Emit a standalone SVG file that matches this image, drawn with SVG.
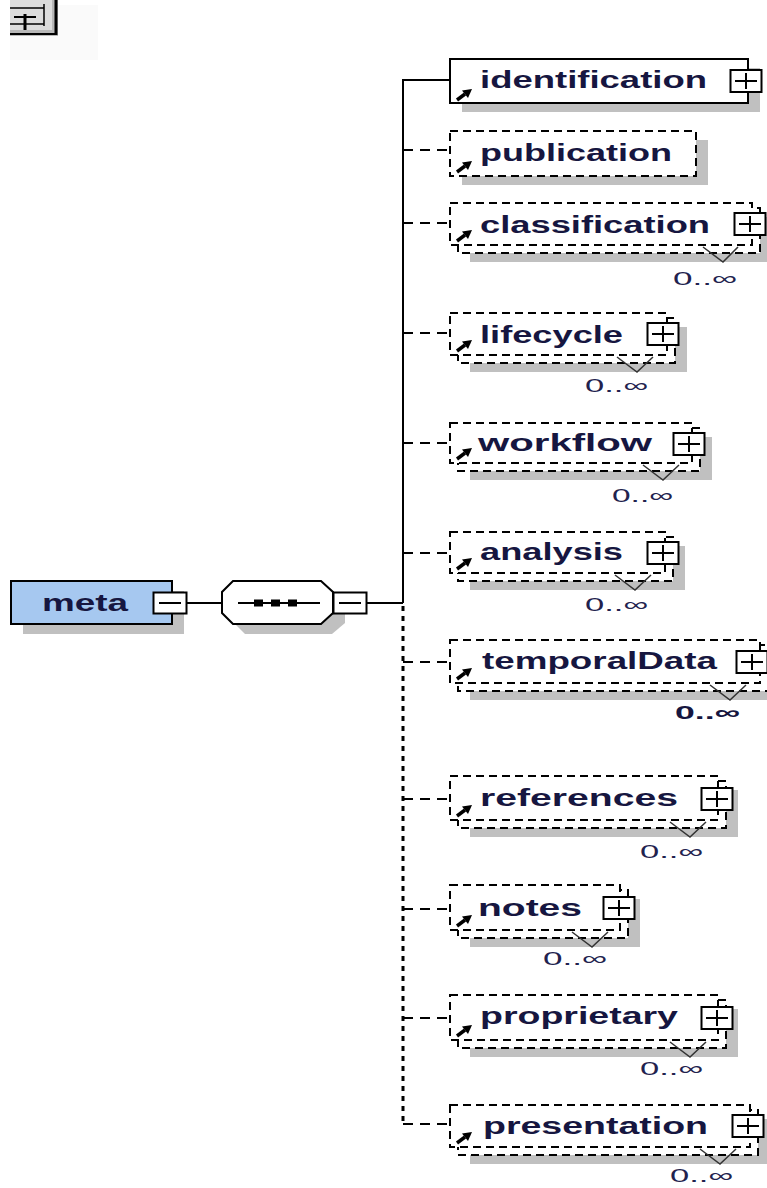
<svg xmlns="http://www.w3.org/2000/svg" width="767" height="1188" viewBox="0 0 767 1188">
<style>
.shadow{fill:#c0c0c0;stroke:none}
.box{fill:#ffffff;stroke:#000;stroke-width:2}
.dbox{fill:#ffffff;stroke:#000;stroke-width:2;stroke-dasharray:8 5}
.lbl{font-family:"Liberation Sans",Arial,sans-serif;font-weight:bold;font-size:23px;fill:#161640}
.card{font-family:"Liberation Sans",Arial,sans-serif;font-size:19px;fill:#22224e}
.cardb{font-family:"Liberation Sans",Arial,sans-serif;font-size:19px;font-weight:bold;fill:#161640}
.plus{fill:#fff;stroke:#000;stroke-width:2}
.sign{stroke:#000;stroke-width:2;fill:none}
.chev{fill:none;stroke:#333;stroke-width:1.5}
.solid{stroke:#000;stroke-width:2;fill:none}
.dash{stroke:#000;stroke-width:2;fill:none;stroke-dasharray:10 7}
.dot{stroke:#000;stroke-width:3;fill:none;stroke-dasharray:5 5}
</style>
<defs>
<g id="arr">
<line x1="0" y1="0" x2="8" y2="-6" stroke="#000" stroke-width="3.5"/>
<polygon points="15,-11 5,-9.5 11,-2" fill="#000"/>
</g>
<g id="pl">
<rect class="plus" x="-15.5" y="-11" width="31" height="22"/>
<line class="sign" x1="-11" y1="0" x2="11" y2="0"/>
<line class="sign" x1="0" y1="-8" x2="0" y2="8"/>
</g>
<g id="mn">
<rect class="plus" x="-16.5" y="-10.5" width="33" height="21"/>
<line class="sign" x1="-11" y1="0" x2="11" y2="0"/>
</g>
</defs>

<g id="toolbar">
<rect x="10" y="5" width="88" height="55" fill="#fafafa"/>
<rect x="10" y="0" width="48" height="36" fill="#b8b8b8"/>
<rect x="10" y="0" width="42" height="30" fill="#dcdcdc"/>
<line x1="56" y1="0" x2="56" y2="35" stroke="#000" stroke-width="3"/>
<line x1="10" y1="34" x2="57" y2="34" stroke="#000" stroke-width="2"/>
<line x1="10" y1="8" x2="44" y2="8" stroke="#000" stroke-width="1.5"/>
<line x1="10" y1="24" x2="44" y2="24" stroke="#000" stroke-width="1.5"/>
<line x1="44" y1="4" x2="44" y2="26" stroke="#000" stroke-width="1.5"/>
<line x1="14" y1="17" x2="36" y2="17" stroke="#000" stroke-width="2"/>
<line x1="25" y1="14" x2="25" y2="30" stroke="#000" stroke-width="3"/>
</g>

<g id="connectors">
<line class="solid" x1="187" y1="603" x2="222" y2="603"/>
<line class="solid" x1="367" y1="603" x2="403" y2="603"/>
<polyline class="solid" points="450,80 403,80 403,603"/>
<line class="dot" x1="403" y1="606" x2="403" y2="1124"/>
<line class="dash" x1="403" y1="150" x2="450" y2="150"/>
<line class="dash" x1="403" y1="223" x2="450" y2="223"/>
<line class="dash" x1="403" y1="333" x2="450" y2="333"/>
<line class="dash" x1="403" y1="443" x2="450" y2="443"/>
<line class="dash" x1="403" y1="553" x2="450" y2="553"/>
<line class="dash" x1="403" y1="662" x2="450" y2="662"/>
<line class="dash" x1="403" y1="799" x2="450" y2="799"/>
<line class="dash" x1="403" y1="909" x2="450" y2="909"/>
<line class="dash" x1="403" y1="1018" x2="450" y2="1018"/>
<line class="dash" x1="403" y1="1124" x2="450" y2="1124"/>
</g>

<g id="meta">
<rect class="shadow" x="23" y="591" width="161" height="43"/>
<rect x="11" y="581" width="161" height="43" fill="#a6c8f0" stroke="#000" stroke-width="2"/>
<text class="lbl" x="42" y="611" textLength="86" lengthAdjust="spacingAndGlyphs">meta</text>
<use href="#mn" x="170" y="603"/>
</g>

<g id="sequence">
<polygon class="shadow" points="245,591 332,591 345,602 345,623 332,634 245,634 234,623 234,602"/>
<polygon points="233,581 321,581 333,592 333,613 321,624 233,624 222,613 222,592" fill="#fff" stroke="#000" stroke-width="2"/>
<line x1="238" y1="603" x2="320" y2="603" stroke="#000" stroke-width="2"/>
<rect x="254" y="599.5" width="9" height="7" fill="#000"/>
<rect x="271" y="599.5" width="9" height="7" fill="#000"/>
<rect x="288" y="599.5" width="9" height="7" fill="#000"/>
<use href="#mn" x="350" y="603"/>
</g>

<g id="identification">
<rect class="shadow" x="462" y="68" width="298" height="44"/>
<rect class="box" x="450" y="59" width="298" height="44"/>
<text class="lbl" x="480" y="88" textLength="227" lengthAdjust="spacingAndGlyphs">identification</text>
<use href="#arr" x="457" y="100"/>
<use href="#pl" x="746" y="81"/>
</g>

<g id="publication">
<rect class="shadow" x="462" y="140" width="246" height="45"/>
<rect class="dbox" x="450" y="131" width="246" height="45"/>
<text class="lbl" x="480" y="161" textLength="192" lengthAdjust="spacingAndGlyphs">publication</text>
<use href="#arr" x="457" y="172"/>
</g>

<g id="classification">
<rect class="shadow" x="470" y="217" width="302" height="45"/>
<rect class="dbox" x="458" y="208" width="302" height="45"/>
<rect class="dbox" x="450" y="203" width="302" height="42"/>
<polyline class="chev" points="703,247 723,262 738,247"/>
<text class="lbl" x="480" y="233" textLength="230" lengthAdjust="spacingAndGlyphs">classification</text>
<use href="#arr" x="457" y="241"/>
<use href="#pl" x="750" y="224"/>
<text class="card" x="673" y="285" textLength="64" lengthAdjust="spacingAndGlyphs">0..∞</text>
</g>

<g id="lifecycle">
<rect class="shadow" x="470" y="327" width="217" height="45"/>
<rect class="dbox" x="458" y="318" width="217" height="45"/>
<rect class="dbox" x="450" y="313" width="217" height="42"/>
<polyline class="chev" points="617,357 637,372 653,357"/>
<text class="lbl" x="480" y="343" textLength="143" lengthAdjust="spacingAndGlyphs">lifecycle</text>
<use href="#arr" x="457" y="351"/>
<use href="#pl" x="663" y="334"/>
<text class="card" x="585" y="392" textLength="63" lengthAdjust="spacingAndGlyphs">0..∞</text>
</g>

<g id="workflow">
<rect class="shadow" x="470" y="437" width="242" height="43"/>
<rect class="dbox" x="458" y="428" width="242" height="43"/>
<rect class="dbox" x="450" y="423" width="242" height="40"/>
<polyline class="chev" points="643,465 663,480 679,465"/>
<text class="lbl" x="478" y="451" textLength="174" lengthAdjust="spacingAndGlyphs">workflow</text>
<use href="#arr" x="457" y="459"/>
<use href="#pl" x="689" y="444"/>
<text class="card" x="612" y="502" textLength="61" lengthAdjust="spacingAndGlyphs">0..∞</text>
</g>

<g id="analysis">
<rect class="shadow" x="470" y="546" width="215" height="44"/>
<rect class="dbox" x="458" y="537" width="215" height="44"/>
<rect class="dbox" x="450" y="532" width="215" height="41"/>
<polyline class="chev" points="615,575 635,590 651,575"/>
<text class="lbl" x="480" y="560" textLength="143" lengthAdjust="spacingAndGlyphs">analysis</text>
<use href="#arr" x="457" y="569"/>
<use href="#pl" x="663" y="553"/>
<text class="card" x="585" y="611" textLength="63" lengthAdjust="spacingAndGlyphs">0..∞</text>
</g>

<g id="temporalData">
<rect class="shadow" x="470" y="654" width="310" height="46"/>
<rect class="dbox" x="458" y="645" width="310" height="46"/>
<rect class="dbox" x="450" y="640" width="310" height="43"/>
<polyline class="chev" points="710,685 730,700 746,685"/>
<text class="lbl" x="482" y="669" textLength="235" lengthAdjust="spacingAndGlyphs">temporalData</text>
<use href="#arr" x="457" y="679"/>
<use href="#pl" x="752" y="662"/>
<text class="cardb" x="675" y="719" textLength="65" lengthAdjust="spacingAndGlyphs">0..∞</text>
</g>

<g id="references">
<rect class="shadow" x="470" y="790" width="268" height="47"/>
<rect class="dbox" x="458" y="781" width="268" height="47"/>
<rect class="dbox" x="450" y="776" width="268" height="44"/>
<polyline class="chev" points="670,822 690,837 706,822"/>
<text class="lbl" x="480" y="806" textLength="198" lengthAdjust="spacingAndGlyphs">references</text>
<use href="#arr" x="457" y="816"/>
<use href="#pl" x="717" y="799"/>
<text class="card" x="640" y="858" textLength="63" lengthAdjust="spacingAndGlyphs">0..∞</text>
</g>

<g id="notes">
<rect class="shadow" x="470" y="899" width="170" height="48"/>
<rect class="dbox" x="458" y="890" width="170" height="48"/>
<rect class="dbox" x="450" y="885" width="170" height="45"/>
<polyline class="chev" points="572,932 592,947 608,932"/>
<text class="lbl" x="478" y="916" textLength="104" lengthAdjust="spacingAndGlyphs">notes</text>
<use href="#arr" x="457" y="926"/>
<use href="#pl" x="619" y="908"/>
<text class="card" x="543" y="965" textLength="64" lengthAdjust="spacingAndGlyphs">0..∞</text>
</g>

<g id="proprietary">
<rect class="shadow" x="470" y="1009" width="268" height="48"/>
<rect class="dbox" x="458" y="1000" width="268" height="48"/>
<rect class="dbox" x="450" y="995" width="268" height="45"/>
<polyline class="chev" points="670,1042 690,1057 706,1042"/>
<text class="lbl" x="480" y="1024" textLength="198" lengthAdjust="spacingAndGlyphs">proprietary</text>
<use href="#arr" x="457" y="1036"/>
<use href="#pl" x="717" y="1018"/>
<text class="card" x="640" y="1075" textLength="63" lengthAdjust="spacingAndGlyphs">0..∞</text>
</g>

<g id="presentation">
<rect class="shadow" x="470" y="1119" width="300" height="45"/>
<rect class="dbox" x="458" y="1110" width="300" height="45"/>
<rect class="dbox" x="450" y="1105" width="300" height="42"/>
<polyline class="chev" points="700,1149 720,1164 736,1149"/>
<text class="lbl" x="483" y="1134" textLength="225" lengthAdjust="spacingAndGlyphs">presentation</text>
<use href="#arr" x="457" y="1143"/>
<use href="#pl" x="748" y="1126"/>
<text class="card" x="670" y="1182" textLength="63" lengthAdjust="spacingAndGlyphs">0..∞</text>
</g>
</svg>
